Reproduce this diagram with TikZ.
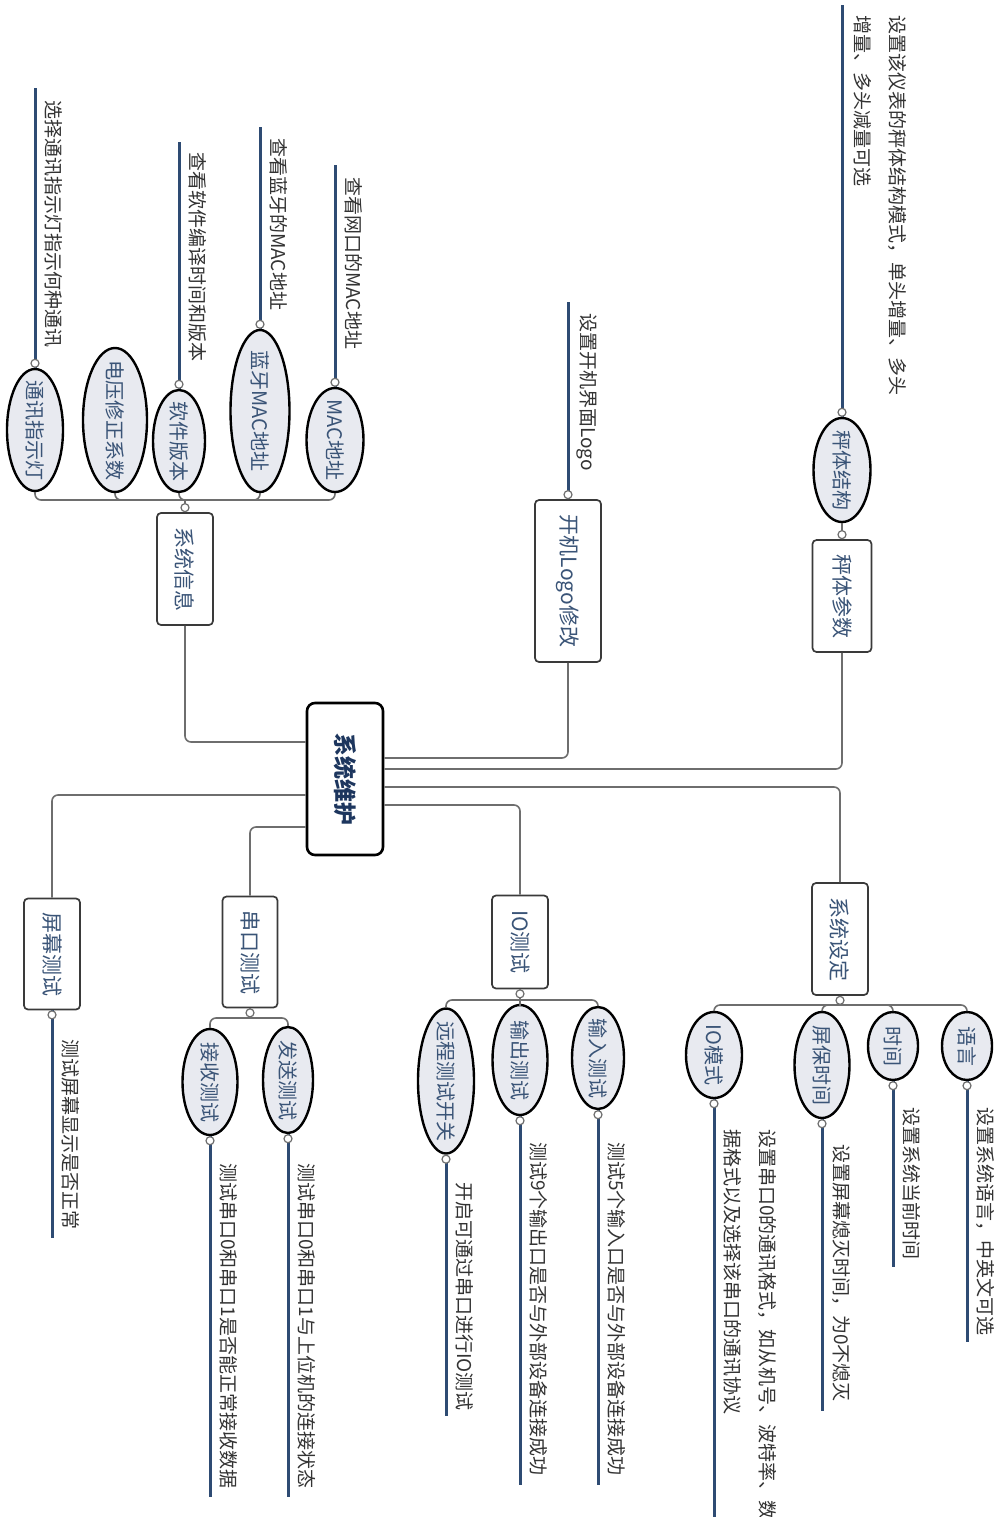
\documentclass[tikz,border=0pt]{standalone}
\usepackage{fontspec}
\setmainfont{Noto Sans CJK SC}
\usepackage{graphicx}
\usetikzlibrary{shapes.geometric}
\definecolor{conngray}{HTML}{6E6E6E}
\definecolor{boxgray}{HTML}{3A3A3A}
\definecolor{leafblue}{HTML}{2E4B73}
\definecolor{subfill}{HTML}{E8EAF0}
\definecolor{topicblue}{HTML}{3A5477}
\definecolor{leafgray}{HTML}{333333}
\definecolor{rootblue}{HTML}{1D365E}
\newcommand\myrot[1]{\rotatebox{-90}{#1}}
\newcommand\myleaffont{\fontsize{19}{35}\selectfont}
\newcommand\mytopicfont{\fontsize{21}{25}\selectfont}
\newcommand\mysubfont{\fontsize{20}{24}\selectfont}
\newcommand\myrootfont{\fontsize{23}{27}\selectfont\bfseries}
\begin{document}
\begin{tikzpicture}[x=1pt,y=-1pt,
  sz/.style 2 args={minimum width=#1pt,minimum height=#2pt},
  rootbox/.style={draw=black,line width=2.6pt,rounded corners=8pt,fill=white,inner sep=0pt,text=rootblue,font=\myrootfont},
  topic/.style={draw=boxgray,line width=1.7pt,rounded corners=4pt,fill=white,inner sep=0pt,text=topicblue,font=\mytopicfont},
  sub/.style={ellipse,draw=black,line width=2.4pt,fill=subfill,inner sep=0pt},
  subtext/.style={inner sep=0pt,text=topicblue,font=\mysubfont},
  conn/.style={draw=conngray,line width=1.6pt,rounded corners=6pt},
  leafline/.style={draw=leafblue,line width=3pt},
  ind/.style={circle,draw=conngray,fill=white,line width=1.2pt,minimum size=8pt,inner sep=0pt},
  leaf/.style={inner sep=0pt,anchor=north,text=leafgray,font=\myleaffont}]
\fill[white] (0,0) rectangle (1005,1517);
\useasboundingbox (0,0) rectangle (1005,1517);

% ---------- root ----------
\node[rootbox,sz={76}{152}] (root) at (345,779) {\myrot{系统维护}};

% ---------- topics ----------
\node[topic,sz={59}{112}] (chengti) at (842,596) {\myrot{秤体参数}};
\node[topic,sz={66}{162}] (logo) at (568,581) {\myrot{开机Logo修改}};
\node[topic,sz={56}{112}] (sysinfo) at (185,569) {\myrot{系统信息}};
\node[topic,sz={56}{112}] (sysset) at (840,939) {\myrot{系统设定}};
\node[topic,sz={56}{93}] (iotest) at (520,942) {\myrot{IO测试}};
\node[topic,sz={55}{111}] (serial) at (250,952) {\myrot{串口测试}};
\node[topic,sz={56}{111}] (screen) at (52,954) {\myrot{屏幕测试}};

% ---------- sub topics (ellipses) ----------
\node[sub,sz={57}{104}] (e_struct) at (842,470) {};
\node[sub,sz={56}{122}] (e_comm) at (35,430) {};
\node[sub,sz={64}{144}] (e_volt) at (115,420) {};
\node[sub,sz={52}{102}] (e_soft) at (179,441) {};
\node[sub,sz={59}{162}] (e_bt) at (260,411) {};
\node[sub,sz={57}{104}] (e_mac) at (335,440) {};
\node[sub,sz={50}{68}] (e_lang) at (967,1046) {};
\node[sub,sz={50}{68}] (e_time) at (893,1046) {};
\node[sub,sz={55}{106}] (e_saver) at (822,1065) {};
\node[sub,sz={56}{86}] (e_iomode) at (714,1055) {};
\node[sub,sz={52}{102}] (e_in) at (598,1058) {};
\node[sub,sz={55}{110}] (e_out) at (520,1060) {};
\node[sub,sz={56}{145}] (e_remote) at (446,1081) {};
\node[sub,sz={50}{106}] (e_send) at (288,1080) {};
\node[sub,sz={55}{106}] (e_recv) at (210,1082) {};

\node[subtext] (t_struct) at (e_struct) {\myrot{秤体结构}};
\node[subtext] (t_comm) at (e_comm) {\myrot{通讯指示灯}};
\node[subtext] (t_volt) at (e_volt) {\myrot{电压修正系数}};
\node[subtext] (t_soft) at (e_soft) {\myrot{软件版本}};
\node[subtext] (t_bt) at (e_bt) {\myrot{蓝牙MAC地址}};
\node[subtext] (t_mac) at (e_mac) {\myrot{MAC地址}};
\node[subtext] (t_lang) at (e_lang) {\myrot{语言}};
\node[subtext] (t_time) at (e_time) {\myrot{时间}};
\node[subtext] (t_saver) at (e_saver) {\myrot{屏保时间}};
\node[subtext] (t_iomode) at (e_iomode) {\myrot{IO模式}};
\node[subtext] (t_in) at (e_in) {\myrot{输入测试}};
\node[subtext] (t_out) at (e_out) {\myrot{输出测试}};
\node[subtext] (t_remote) at (e_remote) {\myrot{远程测试开关}};
\node[subtext] (t_send) at (e_send) {\myrot{发送测试}};
\node[subtext] (t_recv) at (e_recv) {\myrot{接收测试}};

% ---------- root connectors ----------
\draw[conn] (root.east |- 0,758) -| (logo.south);
\draw[conn] (root.east |- 0,769) -| (chengti.south);
\draw[conn] (root.east |- 0,787) -| (sysset.north);
\draw[conn] (root.east |- 0,805) -| (iotest.north);
\draw[conn] (root.west |- 0,742) -| (sysinfo.south);
\draw[conn] (root.west |- 0,795) -| (screen.north);
\draw[conn] (root.west |- 0,827) -| (serial.north);

% ---------- branch connectors ----------
\draw[conn] (chengti.north) -- (e_struct.south);

\coordinate (bus_info) at (sysinfo.north |- 0,500);
\draw[conn] (sysinfo.north) -- (bus_info);
\foreach \n in {e_comm,e_volt,e_soft,e_bt,e_mac}
  \draw[conn] (bus_info) -| (\n.south);

\coordinate (bus_set) at (sysset.south |- 0,1005);
\draw[conn] (sysset.south) -- (bus_set);
\foreach \n in {e_lang,e_time,e_saver,e_iomode}
  \draw[conn] (bus_set) -| (\n.north);

\coordinate (bus_io) at (iotest.south |- 0,1000);
\draw[conn] (iotest.south) -- (bus_io);
\foreach \n in {e_in,e_out,e_remote}
  \draw[conn] (bus_io) -| (\n.north);

\coordinate (bus_ser) at (serial.south |- 0,1018);
\draw[conn] (serial.south) -- (bus_ser);
\foreach \n in {e_send,e_recv}
  \draw[conn] (bus_ser) -| (\n.north);

% ---------- leaf lines ----------
\coordinate (x_struct) at (e_struct.north |- 0,5);
\coordinate (x_logo) at (logo.north |- 0,302);
\coordinate (x_comm) at (e_comm.north |- 0,88);
\coordinate (x_soft) at (e_soft.north |- 0,142);
\coordinate (x_bt) at (e_bt.north |- 0,127);
\coordinate (x_mac) at (e_mac.north |- 0,165);
\coordinate (x_lang) at (e_lang.south |- 0,1342);
\coordinate (x_time) at (e_time.south |- 0,1267);
\coordinate (x_saver) at (e_saver.south |- 0,1411);
\coordinate (x_iomode) at (e_iomode.south |- 0,1517);
\coordinate (x_in) at (e_in.south |- 0,1485);
\coordinate (x_out) at (e_out.south |- 0,1485);
\coordinate (x_remote) at (e_remote.south |- 0,1416);
\coordinate (x_send) at (e_send.south |- 0,1497);
\coordinate (x_recv) at (e_recv.south |- 0,1497);
\coordinate (x_screen) at (screen.south |- 0,1238);

\foreach \a/\b in {e_struct.north/x_struct,logo.north/x_logo,e_comm.north/x_comm,
  e_soft.north/x_soft,e_bt.north/x_bt,e_mac.north/x_mac,e_lang.south/x_lang,
  e_time.south/x_time,e_saver.south/x_saver,e_iomode.south/x_iomode,
  e_in.south/x_in,e_out.south/x_out,e_remote.south/x_remote,
  e_send.south/x_send,e_recv.south/x_recv,screen.south/x_screen}
  \draw[leafline] (\a) -- (\b);

% ---------- indicator circles ----------
\node[ind] (c_cheng) at ([yshift=4.5pt]chengti.north) {};
\node[ind] (c_struct) at ([yshift=4.5pt]e_struct.north) {};
\node[ind] (c_logo) at ([yshift=4.5pt]logo.north) {};
\node[ind] (c_info) at ([yshift=4.5pt]sysinfo.north) {};
\node[ind] (c_comm) at ([yshift=4.5pt]e_comm.north) {};
\node[ind] (c_soft) at ([yshift=4.5pt]e_soft.north) {};
\node[ind] (c_bt) at ([yshift=4.5pt]e_bt.north) {};
\node[ind] (c_mac) at ([yshift=4.5pt]e_mac.north) {};
\node[ind] (c_set) at ([yshift=-4.5pt]sysset.south) {};
\node[ind] (c_lang) at ([yshift=-4.5pt]e_lang.south) {};
\node[ind] (c_time) at ([yshift=-4.5pt]e_time.south) {};
\node[ind] (c_saver) at ([yshift=-4.5pt]e_saver.south) {};
\node[ind] (c_iomode) at ([yshift=-4.5pt]e_iomode.south) {};
\node[ind] (c_io) at ([yshift=-4.5pt]iotest.south) {};
\node[ind] (c_in) at ([yshift=-4.5pt]e_in.south) {};
\node[ind] (c_out) at ([yshift=-4.5pt]e_out.south) {};
\node[ind] (c_remote) at ([yshift=-4.5pt]e_remote.south) {};
\node[ind] (c_ser) at ([yshift=-4.5pt]serial.south) {};
\node[ind] (c_send) at ([yshift=-4.5pt]e_send.south) {};
\node[ind] (c_recv) at ([yshift=-4.5pt]e_recv.south) {};
\node[ind] (c_screen) at ([yshift=-4.5pt]screen.south) {};

% ---------- leaf texts ----------
\node[leaf] (l_struct) at (879.5,15) {\myrot{\begin{tabular}{@{}l@{}}设置该仪表的秤体结构模式，单头增量、多头\\增量、多头减量可选\end{tabular}}};
\node[leaf] (l_logo) at (587,313) {\myrot{设置开机界面Logo}};
\node[leaf] (l_comm) at (54,100) {\myrot{选择通讯指示灯指示何种通讯}};
\node[leaf] (l_soft) at (198,152) {\myrot{查看软件编译时间和版本}};
\node[leaf] (l_bt) at (279,138) {\myrot{查看蓝牙的MAC地址}};
\node[leaf] (l_mac) at (354,177) {\myrot{查看网口的MAC地址}};
\node[leaf] (l_lang) at (986,1107) {\myrot{设置系统语言，中英文可选}};
\node[leaf] (l_time) at (912,1107) {\myrot{设置系统当前时间}};
\node[leaf] (l_saver) at (841,1144) {\myrot{设置屏幕熄灭时间，为0不熄灭}};
\node[leaf] (l_iomode) at (749.5,1129) {\myrot{\begin{tabular}{@{}l@{}}设置串口0的通讯格式，如从机号、波特率、数\\据格式以及选择该串口的通讯协议\end{tabular}}};
\node[leaf] (l_in) at (617,1142) {\myrot{测试5个输入口是否与外部设备连接成功}};
\node[leaf] (l_out) at (539,1142) {\myrot{测试9个输出口是否与外部设备连接成功}};
\node[leaf] (l_remote) at (465,1182) {\myrot{开启可通过串口进行IO测试}};
\node[leaf] (l_send) at (307,1163) {\myrot{测试串口0和串口1与上位机的连接状态}};
\node[leaf] (l_recv) at (229,1163) {\myrot{测试串口0和串口1是否能正常接收数据}};
\node[leaf] (l_screen) at (71,1039) {\myrot{测试屏幕显示是否正常}};
\end{tikzpicture}
\end{document}
